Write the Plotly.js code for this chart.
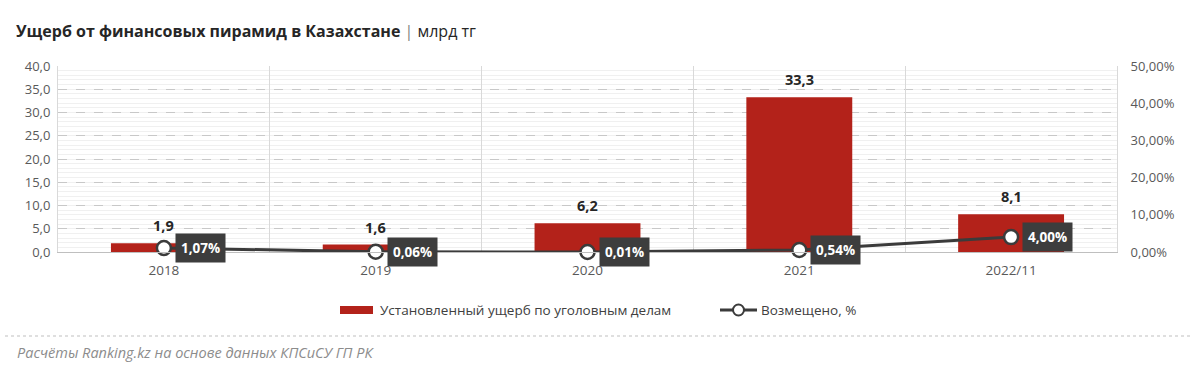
<!DOCTYPE html>
<html>
<head>
<meta charset="utf-8">
<script src="https://cdn.plot.ly/plotly-3.0.1.min.js"></script>
<style>html,body{margin:0;padding:0;background:#fff;}#chart{width:1200px;height:381px;}</style>
</head>
<body>
<div id="chart"></div>
<script>
const categories = ["2018", "2019", "2020", "2021", "2022/11"];
const damage = [1.9, 1.6, 6.2, 33.3, 8.1];
const compensated = [1.07, 0.06, 0.01, 0.54, 4.00];
const leftTicks = [0, 5, 10, 15, 20, 25, 30, 35, 40];
const rightTicks = [0, 10, 20, 30, 40, 50];
const seriesNames = ["Установленный ущерб по уголовным делам", "Возмещено, %"];

const FONT = "Open Sans, Lato, sans-serif";
const BAR = "#b3221a";
const LINE = "#3b3b3b";
const px2x = p => (p - 58) / 1059;
const px2y = p => (252 - p) / 186;
const fmt = (v, d) => v.toFixed(d).replace(".", ",");

const xpos = categories.map((c, i) => i);
const boundaries = categories.map((c, i) => i - 0.5).concat([categories.length - 0.5]);
const xrange = [-0.5, categories.length - 0.5];

const traces = [
  {
    type: "bar", x: xpos, y: damage, name: seriesNames[0],
    marker: {color: BAR}, width: 0.5, hoverinfo: "skip"
  },
  {
    type: "scatter", mode: "lines+markers", x: xpos, y: compensated, yaxis: "y2",
    name: seriesNames[1],
    line: {color: LINE, width: 3},
    marker: {size: 14, color: "#ffffff", line: {color: LINE, width: 2.5}},
    cliponaxis: false, hoverinfo: "skip"
  },
  {type: "scatter", x: [], y: [], xaxis: "x2", showlegend: false, hoverinfo: "skip"}
];

const annotations = [];
// bar value labels
damage.forEach((v, i) => annotations.push({
  x: xpos[i], y: v, xref: "x", yref: "y",
  text: "<b>" + fmt(v, 1) + "</b>", showarrow: false,
  xanchor: "center", yanchor: "bottom", yshift: 6,
  font: {family: FONT, size: 14.5, color: "#262626"}
}));
// line value labels
compensated.forEach((v, i) => annotations.push({
  x: xpos[i], y: v, xref: "x", yref: "y2",
  text: "<b>" + fmt(v, 2) + "%</b>",
  showarrow: false, xanchor: "left", yanchor: "middle", xshift: 11, yshift: 0,
  bgcolor: "#3d3d3d", borderpad: 5,
  font: {family: FONT, size: 13.5, color: "#ffffff"}
}));
// custom legend texts
annotations.push({
  xref: "paper", yref: "paper", x: px2x(378), y: px2y(310), xanchor: "left", yanchor: "middle",
  text: seriesNames[0], showarrow: false, font: {family: FONT, size: 13.5, color: "#404040"}
});
annotations.push({
  xref: "paper", yref: "paper", x: px2x(759), y: px2y(310), xanchor: "left", yanchor: "middle",
  text: seriesNames[1], showarrow: false, font: {family: FONT, size: 13.5, color: "#404040"}
});
// source
annotations.push({
  xref: "paper", yref: "paper", x: px2x(15), y: px2y(352), xanchor: "left", yanchor: "middle",
  text: "<i>Расчёты Ranking.kz на основе данных КПСиСУ ГП РК</i>", showarrow: false,
  font: {family: FONT, size: 14.5, color: "#8c8c8c"}
});

const layout = {
  width: 1200, height: 381,
  margin: {l: 58, r: 83, t: 66, b: 129},
  paper_bgcolor: "#ffffff", plot_bgcolor: "#ffffff",
  font: {family: FONT, color: "#595959"},
  title: {
    text: "<b>Ущерб от финансовых пирамид в Казахстане</b> <span style='color:#7f7f7f'>|</span> млрд тг",
    x: 16 / 1200, xanchor: "left", xref: "container",
    y: 1 - 31 / 381, yanchor: "middle", yref: "container",
    font: {family: FONT, size: 16, color: "#262626"}
  },
  showlegend: false,
  xaxis: {
    range: xrange, tickmode: "array", tickvals: xpos, ticktext: categories,
    showgrid: false, zeroline: false,
    showline: true, linecolor: "#bfbfbf", linewidth: 1,
    ticks: "outside", ticklen: 6, tickcolor: "rgba(0,0,0,0)",
    tickfont: {family: FONT, size: 13.5, color: "#595959"}, fixedrange: true
  },
  xaxis2: {
    overlaying: "x", range: xrange, tickmode: "array", tickvals: boundaries,
    showticklabels: false, showgrid: true, gridcolor: "#d9d9d9", gridwidth: 1,
    zeroline: false, showline: false, ticks: ""
  },
  yaxis: {
    range: [0, 40], tickmode: "array", tickvals: leftTicks,
    ticktext: leftTicks.map(v => fmt(v, 1)),
    showgrid: true, gridcolor: "#c8c8c8", griddash: "dash", gridwidth: 1,
    minor: {dtick: 1, showgrid: true, gridcolor: "#f0f0f0", gridwidth: 1, griddash: "solid"},
    zeroline: false, showline: true, linecolor: "#d9d9d9",
    ticks: "outside", ticklen: 4, tickcolor: "rgba(0,0,0,0)",
    tickfont: {family: FONT, size: 13, color: "#595959"}
  },
  yaxis2: {
    overlaying: "y", side: "right", range: [0, 50], tickmode: "array", tickvals: rightTicks,
    ticktext: rightTicks.map(v => fmt(v, 2) + "%"), showgrid: false, zeroline: false,
    showline: true, linecolor: "#d9d9d9",
    ticks: "outside", ticklen: 10, tickcolor: "rgba(0,0,0,0)",
    tickfont: {family: FONT, size: 13, color: "#595959"}
  },
  annotations: annotations,
  shapes: [
    {type: "line", xref: "paper", yref: "paper",
     x0: px2x(5), x1: px2x(1192), y0: px2y(336), y1: px2y(336),
     line: {color: "#bfbfbf", width: 1, dash: "dot"}},
    // legend swatch: bar
    {type: "rect", xref: "paper", yref: "paper",
     x0: px2x(340), x1: px2x(373), y0: px2y(314), y1: px2y(306),
     fillcolor: BAR, line: {width: 0}},
    // legend swatch: line with marker
    {type: "line", xref: "paper", yref: "paper",
     x0: px2x(720), x1: px2x(757), y0: px2y(310), y1: px2y(310),
     line: {color: LINE, width: 3}},
    {type: "circle", xref: "paper", yref: "paper",
     x0: px2x(733), x1: px2x(744), y0: px2y(315.5), y1: px2y(304.5),
     fillcolor: "#ffffff", line: {color: LINE, width: 2}}
  ]
};

Plotly.newPlot("chart", traces, layout, {displayModeBar: false, staticPlot: true});
</script>
</body>
</html>
